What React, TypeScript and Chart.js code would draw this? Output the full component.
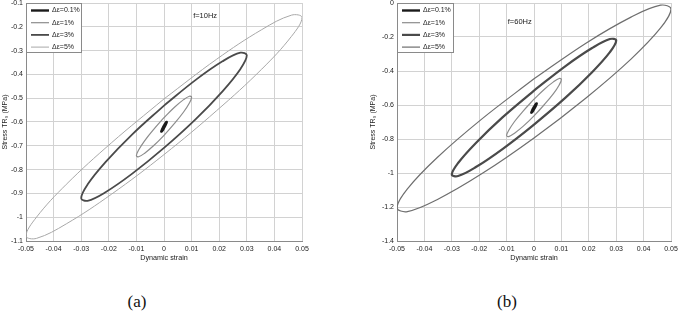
import React, { useEffect, useRef } from 'react';
import { Chart, registerables } from 'chart.js';
Chart.register(...registerables);

// ---- Axis ticks ----
const strainTickValues = [-0.05, -0.04, -0.03, -0.02, -0.01, 0, 0.01, 0.02, 0.03, 0.04, 0.05];
const strainTickLabels = ['-0.05', '-0.04', '-0.03', '-0.02', '-0.01', '0', '0.01', '0.02', '0.03', '0.04', '0.05'];
const stressTickValuesA = [-1.1, -1.0, -0.9, -0.8, -0.7, -0.6, -0.5, -0.4, -0.3, -0.2, -0.1];
const stressTickLabelsA = ['-1.1', '-1', '-0.9', '-0.8', '-0.7', '-0.6', '-0.5', '-0.4', '-0.3', '-0.2', '-0.1'];
const stressTickValuesB = [-1.4, -1.2, -1.0, -0.8, -0.6, -0.4, -0.2, 0];
const stressTickLabelsB = ['-1.4', '-1.2', '-1', '-0.8', '-0.6', '-0.4', '-0.2', '0'];

const amplitudeLabels = ['Δε=0.1%', 'Δε=1%', 'Δε=3%', 'Δε=5%'];

// ---- Loop strains (closed loops) ----
const strain01 = [0, 0.0007, 0.001, 0.0007, 0, -0.0007, -0.001, -0.0007, 0];
const strain1 = [0, 0.0038, 0.0071, 0.0092, 0.01, 0.0092, 0.0071, 0.0038, 0, -0.0038, -0.0071, -0.0092, -0.01, -0.0092, -0.0071, -0.0038, 0];
const strain3 = [0, 0.0115, 0.0212, 0.0277, 0.03, 0.0277, 0.0212, 0.0115, 0, -0.0115, -0.0212, -0.0277, -0.03, -0.0277, -0.0212, -0.0115, 0];
const strain5 = [0, 0.0191, 0.0354, 0.0462, 0.05, 0.0462, 0.0354, 0.0191, 0, -0.0191, -0.0354, -0.0462, -0.05, -0.0462, -0.0354, -0.0191, 0];

// ---- (a) f=10Hz stresses ----
const stressA01 = [-0.615, -0.602, -0.600, -0.609, -0.625, -0.638, -0.640, -0.631, -0.615];
const stressA1 = [-0.582, -0.538, -0.506, -0.492, -0.496, -0.520, -0.558, -0.606, -0.656, -0.700, -0.732, -0.746, -0.742, -0.718, -0.680, -0.632, -0.582];
const stressA3 = [-0.531, -0.423, -0.345, -0.309, -0.320, -0.377, -0.471, -0.588, -0.709, -0.817, -0.895, -0.931, -0.920, -0.863, -0.769, -0.652, -0.531];
const stressA5 = [-0.503, -0.336, -0.212, -0.151, -0.161, -0.240, -0.378, -0.552, -0.737, -0.904, -1.028, -1.089, -1.079, -1.000, -0.862, -0.688, -0.503];

// ---- (b) f=60Hz stresses ----
const stressB01 = [-0.611, -0.594, -0.591, -0.604, -0.625, -0.642, -0.645, -0.632, -0.611];
const stressB1 = [-0.566, -0.507, -0.464, -0.444, -0.450, -0.482, -0.533, -0.597, -0.664, -0.723, -0.766, -0.786, -0.780, -0.749, -0.697, -0.633, -0.566];
const stressB3 = [-0.515, -0.371, -0.265, -0.212, -0.221, -0.289, -0.407, -0.557, -0.715, -0.859, -0.965, -1.018, -1.009, -0.941, -0.823, -0.673, -0.515];
const stressB5 = [-0.446, -0.235, -0.083, -0.013, -0.036, -0.147, -0.330, -0.557, -0.794, -1.005, -1.157, -1.227, -1.204, -1.093, -0.910, -0.683, -0.446];

const FONT = '"Liberation Sans", Arial, sans-serif';

const toPts = (xs: number[], ys: number[]) => xs.map((x, i) => ({ x, y: ys[i] }));

const overlayPlugin = {
  id: 'overlay',
  afterDatasetsDraw(chart: any, _args: any, opts: any) {
    const { ctx, chartArea, scales } = chart;
    ctx.save();
    const x0 = chartArea.left;
    const y0 = chartArea.top;
    ctx.fillStyle = '#fff';
    ctx.fillRect(x0, y0, opts.boxW, 49);
    ctx.strokeStyle = '#8a8a8a';
    ctx.lineWidth = 1;
    ctx.strokeRect(x0 + 0.5, y0 + 0.5, opts.boxW, 49);
    ctx.font = '7px ' + FONT;
    ctx.textBaseline = 'middle';
    ctx.textAlign = 'left';
    chart.data.datasets.forEach((ds: any, i: number) => {
      const y = y0 + 7.5 + i * 12.2;
      ctx.strokeStyle = ds.borderColor;
      ctx.lineWidth = ds.borderWidth;
      ctx.beginPath();
      ctx.moveTo(x0 + 5, y);
      ctx.lineTo(x0 + 23, y);
      ctx.stroke();
      ctx.fillStyle = '#222';
      ctx.fillText(ds.label, x0 + 26, y);
    });
    ctx.textAlign = 'center';
    ctx.fillStyle = '#222';
    ctx.font = '7.5px ' + FONT;
    ctx.fillText(opts.freq, scales.x.getPixelForValue(opts.fx), scales.y.getPixelForValue(opts.fy));
    ctx.restore();
  },
};

type PanelProps = {
  left: number;
  width: number;
  yWidth: number;
  padRight: number;
  stresses: number[][];
  colors: string[];
  widths: number[];
  yTicks: number[];
  yLabels: string[];
  freq: string;
  fx: number;
  fy: number;
  boxW: number;
};

function Panel(p: PanelProps) {
  const ref = useRef<HTMLCanvasElement>(null);
  useEffect(() => {
    if (!ref.current) return;
    const strains = [strain01, strain1, strain3, strain5];
    const datasets = amplitudeLabels.map((label, i) => ({
      label,
      data: toPts(strains[i], p.stresses[i]),
      borderColor: p.colors[i],
      borderWidth: p.widths[i],
      showLine: true,
      tension: 0.38,
      pointRadius: 0,
      fill: false,
      order: 4 - i,
    }));
    const chart = new Chart(ref.current, {
      type: 'scatter',
      data: { datasets },
      plugins: [overlayPlugin],
      options: {
        animation: false,
        responsive: false,
        layout: { padding: { left: 0, right: p.padRight, top: 3, bottom: 0 } },
        plugins: {
          legend: { display: false },
          tooltip: { enabled: false },
          overlay: { freq: p.freq, fx: p.fx, fy: p.fy, boxW: p.boxW },
        } as any,
        scales: {
          x: {
            type: 'linear',
            min: -0.05,
            max: 0.05,
            afterBuildTicks: (s: any) => {
              s.ticks = strainTickValues.map((v) => ({ value: v }));
            },
            afterFit: (s: any) => {
              s.height = 21;
              s.paddingLeft = 0;
              s.paddingRight = 0;
            },
            ticks: {
              autoSkip: false,
              maxRotation: 0,
              padding: 4,
              color: '#222',
              font: { family: FONT, size: 7 },
              callback: (_v: any, i: number) => strainTickLabels[i],
            },
            grid: { color: '#d2d2d2', lineWidth: 1, drawTicks: false },
            border: { color: '#8a8a8a' },
            title: {
              display: true,
              text: 'Dynamic strain',
              color: '#222',
              font: { family: FONT, size: 7.2 },
              padding: { top: 0, bottom: 0 },
            },
          },
          y: {
            type: 'linear',
            min: p.yTicks[0],
            max: p.yTicks[p.yTicks.length - 1],
            afterBuildTicks: (s: any) => {
              s.ticks = p.yTicks.map((v) => ({ value: v }));
            },
            afterFit: (s: any) => {
              s.width = p.yWidth;
              s.paddingTop = 0;
              s.paddingBottom = 0;
            },
            ticks: {
              autoSkip: false,
              padding: 3,
              color: '#222',
              font: { family: FONT, size: 7 },
              callback: (_v: any, i: number) => p.yLabels[i],
            },
            grid: { color: '#d2d2d2', lineWidth: 1, drawTicks: false },
            border: { color: '#8a8a8a' },
            title: {
              display: true,
              text: 'Stress TR₀ (MPa)',
              color: '#222',
              font: { family: FONT, size: 7 },
              padding: { top: 1, bottom: 0 },
            },
          },
        },
      } as any,
    });
    return () => chart.destroy();
  }, []);
  return (
    <canvas
      ref={ref}
      width={p.width}
      height={262}
      style={{ position: 'absolute', left: p.left, top: 0, width: p.width, height: 262 }}
    />
  );
}

export default function App() {
  return (
    <div style={{ position: 'absolute', left: 0, top: 0, width: 678, height: 312, background: '#fff', overflow: 'hidden' }}>
      <Panel
        left={0}
        width={340}
        yWidth={26}
        padRight={38}
        stresses={[stressA01, stressA1, stressA3, stressA5]}
        colors={['#1a1a1a', '#8c8c8c', '#4a4a4a', '#a8a8a8']}
        widths={[2.4, 1.2, 1.8, 1]}
        yTicks={stressTickValuesA}
        yLabels={stressTickLabelsA}
        freq="f=10Hz"
        fx={0.0149}
        fy={-0.155}
        boxW={55}
      />
      <Panel
        left={368}
        width={310}
        yWidth={29}
        padRight={7}
        stresses={[stressB01, stressB1, stressB3, stressB5]}
        colors={['#1a1a1a', '#8c8c8c', '#4a4a4a', '#6e6e6e']}
        widths={[2.4, 1.2, 2.2, 1.2]}
        yTicks={stressTickValuesB}
        yLabels={stressTickLabelsB}
        freq="f=60Hz"
        fx={-0.0052}
        fy={-0.112}
        boxW={56}
      />
      <div style={{ position: 'absolute', left: 97, width: 80, top: 291, textAlign: 'center', fontFamily: '"Liberation Serif", serif', fontSize: 17, lineHeight: '22px', color: '#111' }}>(a)</div>
      <div style={{ position: 'absolute', left: 467, width: 80, top: 291, textAlign: 'center', fontFamily: '"Liberation Serif", serif', fontSize: 17, lineHeight: '22px', color: '#111' }}>(b)</div>
    </div>
  );
}
